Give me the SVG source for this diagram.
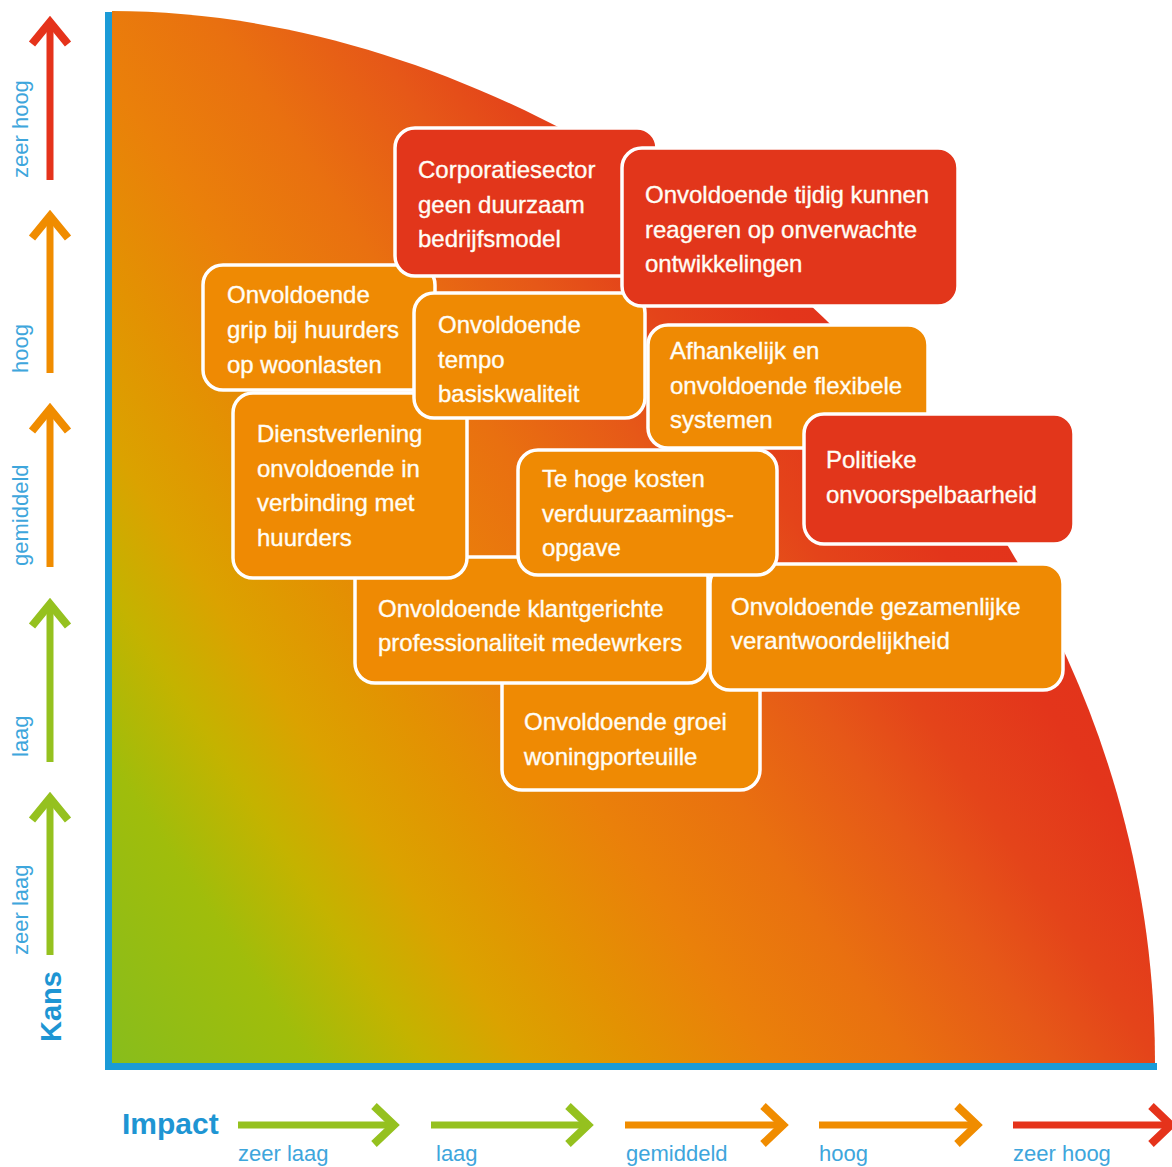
<svg xmlns="http://www.w3.org/2000/svg" width="1172" height="1167" viewBox="0 0 1172 1167">
<defs>
<linearGradient id="bg" gradientUnits="userSpaceOnUse" x1="112" y1="1063" x2="1100" y2="400">
<stop offset="0" stop-color="#88BD1C"/>
<stop offset="0.14" stop-color="#A0BD0B"/>
<stop offset="0.22" stop-color="#C4B300"/>
<stop offset="0.29" stop-color="#DBA200"/>
<stop offset="0.37" stop-color="#E39202"/>
<stop offset="0.46" stop-color="#EA800A"/>
<stop offset="0.56" stop-color="#E97010"/>
<stop offset="0.66" stop-color="#E65818"/>
<stop offset="0.73" stop-color="#E4441A"/>
<stop offset="0.82" stop-color="#E3351B"/>
<stop offset="1" stop-color="#E2301B"/>
</linearGradient>
</defs>
<style>
.box rect{stroke:#ffffff;stroke-width:3.5}
.red rect{fill:#E2361B}
.org rect{fill:#EF8A03}
.bt{font-family:"Liberation Sans",Arial,Helvetica,sans-serif;font-size:24px;fill:#FFFDF5;stroke:#FFFDF5;stroke-width:0.35}
.lvl{font-family:"Liberation Sans",Arial,Helvetica,sans-serif;font-size:22px;fill:#3EA6DC}
.ax{font-family:"Liberation Sans",Arial,Helvetica,sans-serif;font-weight:bold;fill:#1E95D3}
.shaft{stroke-width:7;fill:none}
.head{stroke-width:8;fill:none;stroke-linejoin:miter;stroke-miterlimit:10}
.gr{stroke:#95C11F}
.or{stroke:#F08C00}
.rd{stroke:#E5331B}
</style>

<g id="background">
<path d="M112,11 C600,11 1155,460 1155,1063 L112,1063 Z" fill="url(#bg)"/>
<line x1="108.5" y1="12" x2="108.5" y2="1070" stroke="#1B9BD7" stroke-width="7"/>
<line x1="105" y1="1066.5" x2="1157" y2="1066.5" stroke="#1B9BD7" stroke-width="7"/>
</g>

<g id="kans-axis">
<text class="ax" font-size="29" transform="translate(61,1042) rotate(-90)">Kans</text>
<g id="kans-zeer-laag">
<line class="shaft gr" x1="50" y1="798" x2="50" y2="955"/>
<path class="head gr" d="M32,820 L50,798 L68,820"/>
<text class="lvl" transform="translate(28,955) rotate(-90)">zeer laag</text>
</g>
<g id="kans-laag">
<line class="shaft gr" x1="50" y1="604" x2="50" y2="762"/>
<path class="head gr" d="M32,626 L50,604 L68,626"/>
<text class="lvl" transform="translate(28,757) rotate(-90)">laag</text>
</g>
<g id="kans-gemiddeld">
<line class="shaft or" x1="50" y1="409" x2="50" y2="567"/>
<path class="head or" d="M32,431 L50,409 L68,431"/>
<text class="lvl" transform="translate(28,566) rotate(-90)">gemiddeld</text>
</g>
<g id="kans-hoog">
<line class="shaft or" x1="50" y1="216" x2="50" y2="373"/>
<path class="head or" d="M32,238 L50,216 L68,238"/>
<text class="lvl" transform="translate(28,373) rotate(-90)">hoog</text>
</g>
<g id="kans-zeer-hoog">
<line class="shaft rd" x1="50" y1="22" x2="50" y2="180"/>
<path class="head rd" d="M32,44 L50,22 L68,44"/>
<text class="lvl" transform="translate(28,178) rotate(-90)">zeer hoog</text>
</g>
</g>

<g id="impact-axis">
<text class="ax" font-size="30" x="122" y="1134">Impact</text>
<g id="impact-zeer-laag">
<line class="shaft gr" x1="238" y1="1125" x2="394" y2="1125"/>
<path class="head gr" d="M374,1106 L394,1125 L374,1144"/>
<text class="lvl" x="238" y="1161">zeer laag</text>
</g>
<g id="impact-laag">
<line class="shaft gr" x1="431" y1="1125" x2="588" y2="1125"/>
<path class="head gr" d="M568,1106 L588,1125 L568,1144"/>
<text class="lvl" x="436" y="1161">laag</text>
</g>
<g id="impact-gemiddeld">
<line class="shaft or" x1="625" y1="1125" x2="783" y2="1125"/>
<path class="head or" d="M763,1106 L783,1125 L763,1144"/>
<text class="lvl" x="626" y="1161">gemiddeld</text>
</g>
<g id="impact-hoog">
<line class="shaft or" x1="819" y1="1125" x2="977" y2="1125"/>
<path class="head or" d="M957,1106 L977,1125 L957,1144"/>
<text class="lvl" x="819" y="1161">hoog</text>
</g>
<g id="impact-zeer-hoog">
<line class="shaft rd" x1="1013" y1="1125" x2="1171" y2="1125"/>
<path class="head rd" d="M1151,1106 L1171,1125 L1151,1144"/>
<text class="lvl" x="1013" y="1161">zeer hoog</text>
</g>
</g>

<g id="connectors"></g>

<g id="groei" class="box org">
<rect x="502" y="665" width="258" height="125" rx="20"/>
<text class="bt"><tspan x="524" y="730">Onvoldoende groei</tspan><tspan x="524" y="765">woningporteuille</tspan></text>
</g>
<g id="klantgericht" class="box org">
<rect x="355" y="557" width="353" height="126" rx="20"/>
<text class="bt"><tspan x="378" y="617">Onvoldoende klantgerichte</tspan><tspan x="378" y="651">professionaliteit medewrkers</tspan></text>
</g>
<g id="gezamenlijk" class="box org">
<rect x="710" y="564" width="353" height="126" rx="20"/>
<text class="bt"><tspan x="731" y="615">Onvoldoende gezamenlijke</tspan><tspan x="731" y="649">verantwoordelijkheid</tspan></text>
</g>
<g id="kosten" class="box org">
<rect x="518" y="450" width="259" height="125" rx="20"/>
<text class="bt"><tspan x="542" y="487">Te hoge kosten</tspan><tspan x="542" y="522">verduurzaamings-</tspan><tspan x="542" y="556">opgave</tspan></text>
</g>
<g id="dienstverlening" class="box org">
<rect x="233" y="393" width="234" height="185" rx="20"/>
<text class="bt"><tspan x="257" y="442">Dienstverlening</tspan><tspan x="257" y="477">onvoldoende in</tspan><tspan x="257" y="511">verbinding met</tspan><tspan x="257" y="546">huurders</tspan></text>
</g>
<g id="grip" class="box org">
<rect x="203" y="265" width="232" height="125" rx="20"/>
<text class="bt"><tspan x="227" y="303">Onvoldoende</tspan><tspan x="227" y="338">grip bij huurders</tspan><tspan x="227" y="373">op woonlasten</tspan></text>
</g>
<g id="corporatiesector" class="box red">
<rect x="395" y="128" width="262" height="148" rx="20"/>
<text class="bt"><tspan x="418" y="178">Corporatiesector</tspan><tspan x="418" y="213">geen duurzaam</tspan><tspan x="418" y="247">bedrijfsmodel</tspan></text>
</g>
<g id="tempo" class="box org">
<rect x="414" y="293" width="231" height="125" rx="20"/>
<text class="bt"><tspan x="438" y="333">Onvoldoende</tspan><tspan x="438" y="368">tempo</tspan><tspan x="438" y="402">basiskwaliteit</tspan></text>
</g>
<g id="tijdig" class="box red">
<rect x="622" y="148" width="336" height="158" rx="20"/>
<text class="bt"><tspan x="645" y="203">Onvoldoende tijdig kunnen</tspan><tspan x="645" y="238">reageren op onverwachte</tspan><tspan x="645" y="272">ontwikkelingen</tspan></text>
</g>
<g id="afhankelijk" class="box org">
<rect x="648" y="325" width="280" height="123" rx="20"/>
<text class="bt"><tspan x="670" y="359">Afhankelijk en</tspan><tspan x="670" y="394">onvoldoende flexibele</tspan><tspan x="670" y="428">systemen</tspan></text>
</g>
<g id="politiek" class="box red">
<rect x="804" y="414" width="270" height="130" rx="20"/>
<text class="bt"><tspan x="826" y="468">Politieke</tspan><tspan x="826" y="503">onvoorspelbaarheid</tspan></text>
</g>
</svg>
